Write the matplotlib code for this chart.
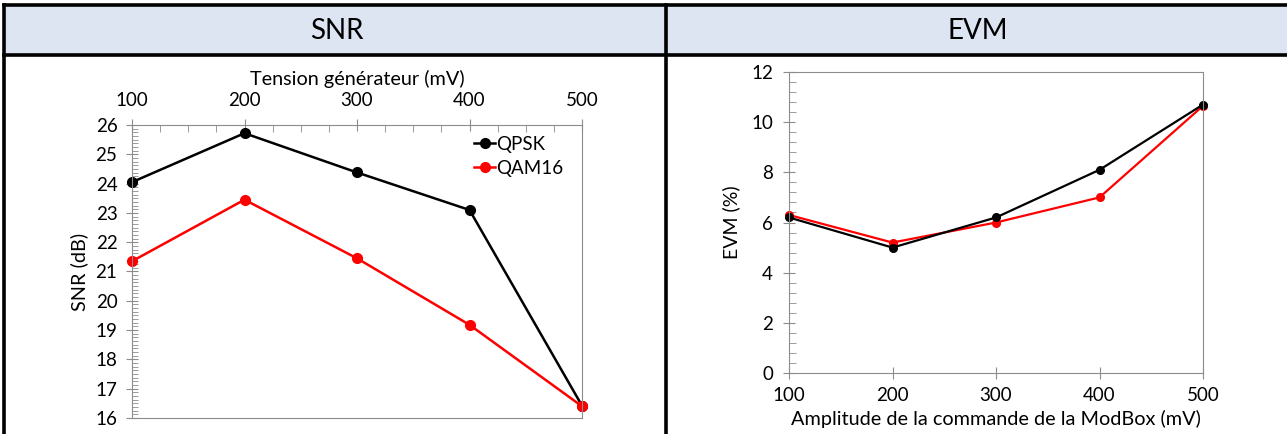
import matplotlib.pyplot as plt
from matplotlib.ticker import MultipleLocator
from matplotlib.lines import Line2D

plt.rcParams['font.family'] = ['Lato', 'DejaVu Sans']

# Donnees
tension = [100, 200, 300, 400, 500]
snr_qpsk = [24.05, 25.72, 24.38, 23.1, 16.42]
snr_qam16 = [21.35, 23.45, 21.45, 19.18, 16.4]

amplitude = [100, 200, 300, 400, 500]
evm_qpsk = [6.2, 5.0, 6.2, 8.1, 10.7]
evm_qam16 = [6.3, 5.2, 6.0, 7.0, 10.65]

headers = ['SNR', 'EVM']

W, H = 1287, 434
fig = plt.figure(figsize=(W / 100, H / 100), dpi=100)

# Tableau: en-tete bleu clair + bordures
bg = fig.add_axes([0, 0, 1, 1])
bg.set_xlim(0, W)
bg.set_ylim(H, 0)
bg.axis('off')
bg.fill_between([4, W], 5, 55, color='#dce5f1', zorder=0)
lw = 2.6
bg.plot([4, W], [5, 5], color='black', lw=lw)
bg.plot([4, W], [55, 55], color='black', lw=lw)
bg.plot([4, 4], [5, H], color='black', lw=lw)
bg.plot([666, 666], [5, H], color='black', lw=lw)
bg.text(337, 31, headers[0], ha='center', va='center', fontsize=20)
bg.text(978, 31, headers[1], ha='center', va='center', fontsize=20)

spine_col = '#8c8c8c'
fs = 13.5

# SNR
ax1 = fig.add_axes([132 / W, 1 - 418 / H, 450 / W, 293 / H])
ax1.plot(tension, snr_qpsk, color='black', marker='o', ms=7, lw=1.8, clip_on=False)
ax1.plot(tension, snr_qam16, color='#ff0000', marker='o', ms=7, lw=1.8, clip_on=False)
ax1.set_xlim(100, 500)
ax1.set_ylim(16, 26)
ax1.xaxis.set_major_locator(MultipleLocator(100))
ax1.xaxis.set_minor_locator(MultipleLocator(25))
ax1.yaxis.set_major_locator(MultipleLocator(1))
ax1.yaxis.set_minor_locator(MultipleLocator(0.125))
ax1.xaxis.tick_top()
ax1.xaxis.set_label_position('top')
ax1.tick_params(axis='x', which='major', direction='inout', length=9, color=spine_col,
                labelsize=fs, pad=7)
ax1.tick_params(axis='x', which='minor', direction='in', length=5, color=spine_col)
ax1.tick_params(axis='y', which='major', direction='inout', length=9, color=spine_col,
                labelsize=fs, pad=6)
ax1.tick_params(axis='y', which='minor', direction='in', length=4, color=spine_col)
ax1.set_xlabel('Tension générateur (mV)', fontsize=14.3, labelpad=5)
ax1.set_ylabel('SNR (dB)', fontsize=14.3, labelpad=5)
for s in ax1.spines.values():
    s.set_color(spine_col)
h = [Line2D([], [], color='black', marker='o', ms=7, lw=1.8),
     Line2D([], [], color='#ff0000', marker='o', ms=7, lw=1.8)]
ax1.legend(h, ['QPSK', 'QAM16'], loc='upper right', bbox_to_anchor=(0.995, 1.02),
           frameon=False, fontsize=13.5, handlelength=1.1, handletextpad=0.05,
           labelspacing=0.35)

# EVM
ax2 = fig.add_axes([789 / W, 1 - 373 / H, 414 / W, 301 / H])
ax2.plot(amplitude, evm_qam16, color='#ff0000', marker='o', ms=5.5, lw=1.6, clip_on=False)
ax2.plot(amplitude, evm_qpsk, color='black', marker='o', ms=5.5, lw=1.6, clip_on=False)
ax2.set_xlim(100, 500)
ax2.set_ylim(0, 12)
ax2.xaxis.set_major_locator(MultipleLocator(100))
ax2.yaxis.set_major_locator(MultipleLocator(2))
ax2.yaxis.set_minor_locator(MultipleLocator(0.4))
ax2.tick_params(axis='x', which='major', direction='inout', length=8, color=spine_col,
                labelsize=fs, pad=6)
ax2.tick_params(axis='y', which='major', direction='inout', length=9, color=spine_col,
                labelsize=fs, pad=7)
ax2.tick_params(axis='y', which='minor', direction='in', length=5, color=spine_col)
ax2.set_xlabel('Amplitude de la commande de la ModBox (mV)', fontsize=14.3, labelpad=4)
ax2.set_ylabel('EVM (%)', fontsize=14, labelpad=8)
for s in ax2.spines.values():
    s.set_color(spine_col)

fig.savefig('out.png', dpi=100)
